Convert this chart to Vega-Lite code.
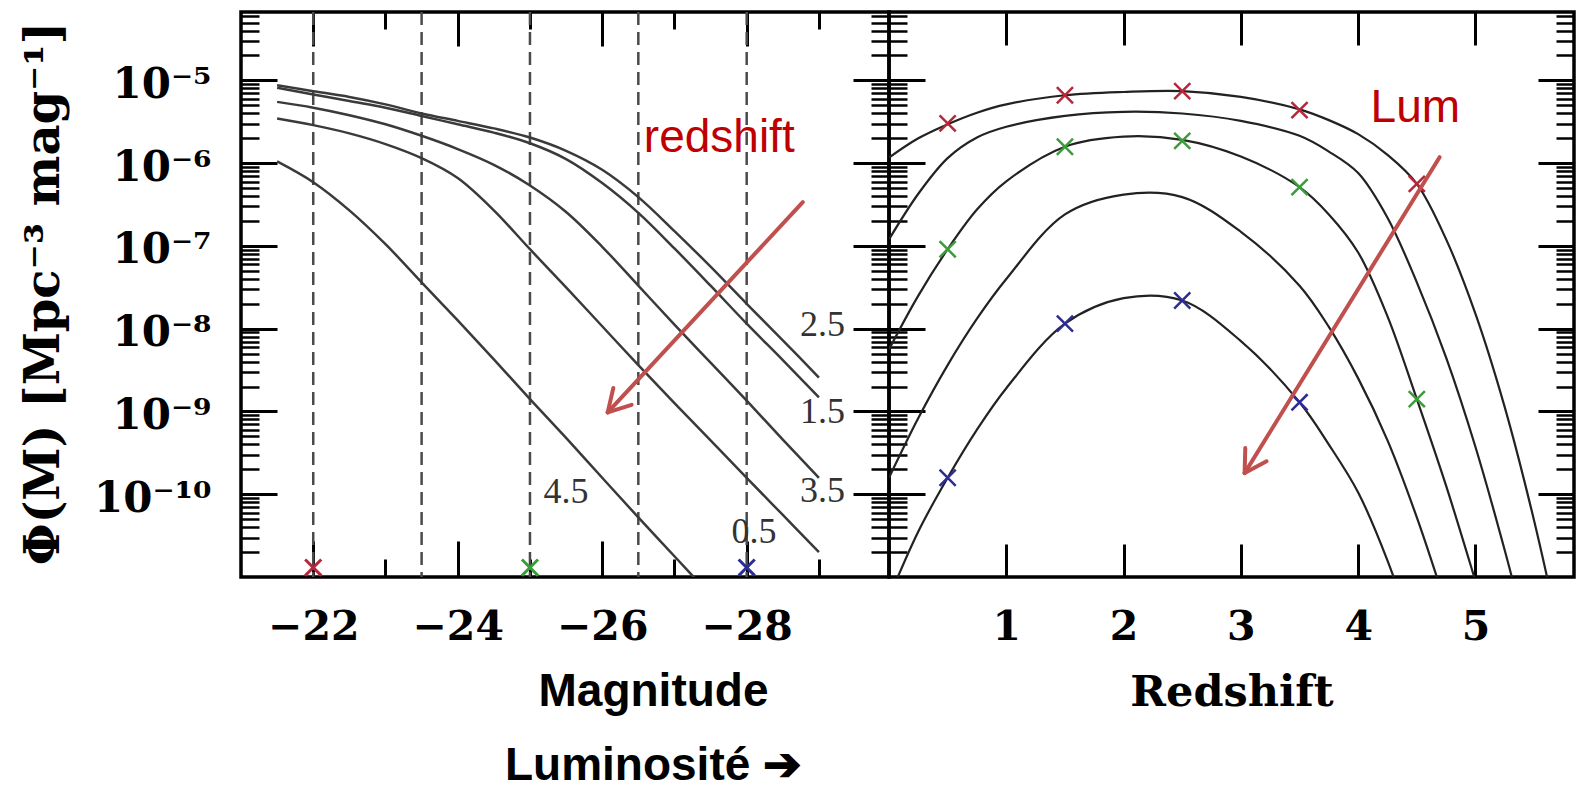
{
  "$schema": "https://vega.github.io/schema/vega-lite/v6.json",
  "background": "white",
  "padding": {"left": 18, "top": 8, "right": 0, "bottom": 0},
  "spacing": 0,
  "bounds": "flush",
  "config": {
    "view": {"stroke": "black", "strokeWidth": 3.5},
    "axis": {"grid": false, "domain": false, "tickColor": "black"}
  },
  "datasets": {
    "dash": [{"mag": -22}, {"mag": -23.5}, {"mag": -25}, {"mag": -26.5}, {"mag": -28}],
    "lf": [
      {"mag": -21.5, "phi": 8.71e-6, "zc": "2.5"}, {"mag": -22, "phi": 7.41e-6, "zc": "2.5"}, {"mag": -22.5, "phi": 6.31e-6, "zc": "2.5"}, {"mag": -23, "phi": 5.13e-6, "zc": "2.5"}, {"mag": -23.5, "phi": 3.98e-6, "zc": "2.5"}, {"mag": -24, "phi": 3.24e-6, "zc": "2.5"}, {"mag": -24.5, "phi": 2.63e-6, "zc": "2.5"}, {"mag": -25, "phi": 2.04e-6, "zc": "2.5"}, {"mag": -25.5, "phi": 1.41e-6, "zc": "2.5"}, {"mag": -26, "phi": 8.32e-7, "zc": "2.5"}, {"mag": -26.5, "phi": 3.89e-7, "zc": "2.5"}, {"mag": -27, "phi": 1.51e-7, "zc": "2.5"}, {"mag": -27.5, "phi": 5.62e-8, "zc": "2.5"}, {"mag": -28, "phi": 2.0e-8, "zc": "2.5"}, {"mag": -28.5, "phi": 7.24e-9, "zc": "2.5"}, {"mag": -29, "phi": 2.57e-9, "zc": "2.5"},
      {"mag": -21.5, "phi": 8.13e-6, "zc": "1.5"}, {"mag": -22, "phi": 6.76e-6, "zc": "1.5"}, {"mag": -22.5, "phi": 5.62e-6, "zc": "1.5"}, {"mag": -23, "phi": 4.68e-6, "zc": "1.5"}, {"mag": -23.5, "phi": 3.72e-6, "zc": "1.5"}, {"mag": -24, "phi": 2.95e-6, "zc": "1.5"}, {"mag": -24.5, "phi": 2.34e-6, "zc": "1.5"}, {"mag": -25, "phi": 1.74e-6, "zc": "1.5"}, {"mag": -25.5, "phi": 1.12e-6, "zc": "1.5"}, {"mag": -26, "phi": 5.75e-7, "zc": "1.5"}, {"mag": -26.5, "phi": 2.51e-7, "zc": "1.5"}, {"mag": -27, "phi": 9.33e-8, "zc": "1.5"}, {"mag": -27.5, "phi": 3.31e-8, "zc": "1.5"}, {"mag": -28, "phi": 1.15e-8, "zc": "1.5"}, {"mag": -28.5, "phi": 4.17e-9, "zc": "1.5"}, {"mag": -29, "phi": 1.48e-9, "zc": "1.5"},
      {"mag": -21.5, "phi": 5.50e-6, "zc": "3.5"}, {"mag": -22, "phi": 4.68e-6, "zc": "3.5"}, {"mag": -22.5, "phi": 3.80e-6, "zc": "3.5"}, {"mag": -23, "phi": 2.95e-6, "zc": "3.5"}, {"mag": -23.5, "phi": 2.14e-6, "zc": "3.5"}, {"mag": -24, "phi": 1.48e-6, "zc": "3.5"}, {"mag": -24.5, "phi": 9.55e-7, "zc": "3.5"}, {"mag": -25, "phi": 5.37e-7, "zc": "3.5"}, {"mag": -25.5, "phi": 2.57e-7, "zc": "3.5"}, {"mag": -26, "phi": 9.77e-8, "zc": "3.5"}, {"mag": -26.5, "phi": 3.31e-8, "zc": "3.5"}, {"mag": -27, "phi": 1.12e-8, "zc": "3.5"}, {"mag": -27.5, "phi": 3.89e-9, "zc": "3.5"}, {"mag": -28, "phi": 1.35e-9, "zc": "3.5"}, {"mag": -28.5, "phi": 4.57e-10, "zc": "3.5"}, {"mag": -29, "phi": 1.58e-10, "zc": "3.5"},
      {"mag": -21.5, "phi": 3.47e-6, "zc": "0.5"}, {"mag": -22, "phi": 2.88e-6, "zc": "0.5"}, {"mag": -22.5, "phi": 2.29e-6, "zc": "0.5"}, {"mag": -23, "phi": 1.70e-6, "zc": "0.5"}, {"mag": -23.5, "phi": 1.15e-6, "zc": "0.5"}, {"mag": -24, "phi": 6.61e-7, "zc": "0.5"}, {"mag": -24.5, "phi": 2.69e-7, "zc": "0.5"}, {"mag": -25, "phi": 9.12e-8, "zc": "0.5"}, {"mag": -25.5, "phi": 3.16e-8, "zc": "0.5"}, {"mag": -26, "phi": 1.07e-8, "zc": "0.5"}, {"mag": -26.5, "phi": 3.63e-9, "zc": "0.5"}, {"mag": -27, "phi": 1.26e-9, "zc": "0.5"}, {"mag": -27.5, "phi": 4.47e-10, "zc": "0.5"}, {"mag": -28, "phi": 1.58e-10, "zc": "0.5"}, {"mag": -28.5, "phi": 5.62e-11, "zc": "0.5"}, {"mag": -29, "phi": 2.0e-11, "zc": "0.5"},
      {"mag": -21.5, "phi": 1.05e-6, "zc": "4.5"}, {"mag": -22, "phi": 5.89e-7, "zc": "4.5"}, {"mag": -22.5, "phi": 2.69e-7, "zc": "4.5"}, {"mag": -23, "phi": 1.05e-7, "zc": "4.5"}, {"mag": -23.5, "phi": 3.63e-8, "zc": "4.5"}, {"mag": -24, "phi": 1.26e-8, "zc": "4.5"}, {"mag": -24.5, "phi": 4.27e-9, "zc": "4.5"}, {"mag": -25, "phi": 1.41e-9, "zc": "4.5"}, {"mag": -25.5, "phi": 4.79e-10, "zc": "4.5"}, {"mag": -26, "phi": 1.58e-10, "zc": "4.5"}, {"mag": -26.5, "phi": 5.25e-11, "zc": "4.5"}, {"mag": -27, "phi": 1.78e-11, "zc": "4.5"}, {"mag": -27.5, "phi": 6.03e-12, "zc": "4.5"}
    ],
    "zf": [
      {"z": 0, "phi": 1.17e-6, "m": "-22"}, {"z": 0.25, "phi": 2.0e-6, "m": "-22"}, {"z": 0.5, "phi": 2.95e-6, "m": "-22"}, {"z": 0.75, "phi": 4.07e-6, "m": "-22"}, {"z": 1, "phi": 5.13e-6, "m": "-22"}, {"z": 1.5, "phi": 6.61e-6, "m": "-22"}, {"z": 2, "phi": 7.24e-6, "m": "-22"}, {"z": 2.5, "phi": 7.41e-6, "m": "-22"}, {"z": 3, "phi": 6.31e-6, "m": "-22"}, {"z": 3.5, "phi": 4.47e-6, "m": "-22"}, {"z": 3.75, "phi": 3.31e-6, "m": "-22"}, {"z": 4, "phi": 2.24e-6, "m": "-22"}, {"z": 4.25, "phi": 1.26e-6, "m": "-22"}, {"z": 4.5, "phi": 5.62e-7, "m": "-22"}, {"z": 4.75, "phi": 1.20e-7, "m": "-22"}, {"z": 5, "phi": 1.51e-8, "m": "-22"}, {"z": 5.25, "phi": 1.12e-9, "m": "-22"}, {"z": 5.5, "phi": 4.79e-11, "m": "-22"}, {"z": 5.7, "phi": 2.63e-12, "m": "-22"},
      {"z": 0, "phi": 1.20e-7, "m": "-23.5"}, {"z": 0.25, "phi": 4.27e-7, "m": "-23.5"}, {"z": 0.5, "phi": 1.15e-6, "m": "-23.5"}, {"z": 0.75, "phi": 2.04e-6, "m": "-23.5"}, {"z": 1, "phi": 2.75e-6, "m": "-23.5"}, {"z": 1.5, "phi": 3.72e-6, "m": "-23.5"}, {"z": 2, "phi": 4.17e-6, "m": "-23.5"}, {"z": 2.5, "phi": 3.98e-6, "m": "-23.5"}, {"z": 3, "phi": 3.24e-6, "m": "-23.5"}, {"z": 3.5, "phi": 2.14e-6, "m": "-23.5"}, {"z": 3.75, "phi": 1.38e-6, "m": "-23.5"}, {"z": 4, "phi": 7.59e-7, "m": "-23.5"}, {"z": 4.25, "phi": 2.19e-7, "m": "-23.5"}, {"z": 4.5, "phi": 3.63e-8, "m": "-23.5"}, {"z": 4.75, "phi": 4.47e-9, "m": "-23.5"}, {"z": 5, "phi": 3.72e-10, "m": "-23.5"}, {"z": 5.25, "phi": 2.09e-11, "m": "-23.5"}, {"z": 5.4, "phi": 3.16e-12, "m": "-23.5"},
      {"z": 0, "phi": 5.62e-9, "m": "-25"}, {"z": 0.25, "phi": 2.51e-8, "m": "-25"}, {"z": 0.5, "phi": 9.12e-8, "m": "-25"}, {"z": 0.75, "phi": 2.75e-7, "m": "-25"}, {"z": 1, "phi": 6.03e-7, "m": "-25"}, {"z": 1.5, "phi": 1.58e-6, "m": "-25"}, {"z": 2, "phi": 2.09e-6, "m": "-25"}, {"z": 2.5, "phi": 1.91e-6, "m": "-25"}, {"z": 3, "phi": 1.20e-6, "m": "-25"}, {"z": 3.5, "phi": 5.13e-7, "m": "-25"}, {"z": 3.75, "phi": 2.40e-7, "m": "-25"}, {"z": 4, "phi": 8.32e-8, "m": "-25"}, {"z": 4.25, "phi": 1.41e-8, "m": "-25"}, {"z": 4.5, "phi": 1.41e-9, "m": "-25"}, {"z": 4.75, "phi": 1.26e-10, "m": "-25"}, {"z": 5, "phi": 8.91e-12, "m": "-25"}, {"z": 5.1, "phi": 3.0e-12, "m": "-25"},
      {"z": 0, "phi": 1.58e-10, "m": "-26.5"}, {"z": 0.25, "phi": 8.32e-10, "m": "-26.5"}, {"z": 0.5, "phi": 3.63e-9, "m": "-26.5"}, {"z": 0.75, "phi": 1.32e-8, "m": "-26.5"}, {"z": 1, "phi": 3.98e-8, "m": "-26.5"}, {"z": 1.5, "phi": 2.40e-7, "m": "-26.5"}, {"z": 2, "phi": 4.17e-7, "m": "-26.5"}, {"z": 2.5, "phi": 3.89e-7, "m": "-26.5"}, {"z": 3, "phi": 1.48e-7, "m": "-26.5"}, {"z": 3.5, "phi": 3.31e-8, "m": "-26.5"}, {"z": 3.75, "phi": 1.05e-8, "m": "-26.5"}, {"z": 4, "phi": 2.51e-9, "m": "-26.5"}, {"z": 4.25, "phi": 4.47e-10, "m": "-26.5"}, {"z": 4.5, "phi": 5.25e-11, "m": "-26.5"}, {"z": 4.75, "phi": 4.47e-12, "m": "-26.5"},
      {"z": 0, "phi": 5.62e-12, "m": "-28"}, {"z": 0.25, "phi": 3.55e-11, "m": "-28"}, {"z": 0.5, "phi": 1.58e-10, "m": "-28"}, {"z": 0.75, "phi": 6.03e-10, "m": "-28"}, {"z": 1, "phi": 1.91e-9, "m": "-28"}, {"z": 1.5, "phi": 1.15e-8, "m": "-28"}, {"z": 2, "phi": 2.34e-8, "m": "-28"}, {"z": 2.5, "phi": 2.19e-8, "m": "-28"}, {"z": 3, "phi": 7.08e-9, "m": "-28"}, {"z": 3.5, "phi": 1.29e-9, "m": "-28"}, {"z": 3.75, "phi": 3.98e-10, "m": "-28"}, {"z": 4, "phi": 1.05e-10, "m": "-28"}, {"z": 4.25, "phi": 1.58e-11, "m": "-28"}, {"z": 4.5, "phi": 1.5e-12, "m": "-28"}
    ],
    "lflabels": [
      {"mag": -29.05, "phi": 1.10e-8, "t": "2.5"},
      {"mag": -29.05, "phi": 9.77e-10, "t": "1.5"},
      {"mag": -29.05, "phi": 1.10e-10, "t": "3.5"},
      {"mag": -28.1, "phi": 3.47e-11, "t": "0.5"},
      {"mag": -25.5, "phi": 1.05e-10, "t": "4.5"}
    ],
    "bmarks": [
      {"mag": -22, "phi": 1.3e-11, "c": "r"},
      {"mag": -25, "phi": 1.3e-11, "c": "g"},
      {"mag": -28, "phi": 1.3e-11, "c": "b"}
    ],
    "rmarks": [
      {"z": 0.5, "phi": 3.02e-6, "c": "r"}, {"z": 1.5, "phi": 6.61e-6, "c": "r"}, {"z": 2.5, "phi": 7.41e-6, "c": "r"}, {"z": 3.5, "phi": 4.37e-6, "c": "r"}, {"z": 4.5, "phi": 5.62e-7, "c": "r"},
      {"z": 0.5, "phi": 9.12e-8, "c": "g"}, {"z": 1.5, "phi": 1.58e-6, "c": "g"}, {"z": 2.5, "phi": 1.86e-6, "c": "g"}, {"z": 3.5, "phi": 5.13e-7, "c": "g"}, {"z": 4.5, "phi": 1.41e-9, "c": "g"},
      {"z": 0.5, "phi": 1.58e-10, "c": "b"}, {"z": 1.5, "phi": 1.15e-8, "c": "b"}, {"z": 2.5, "phi": 2.19e-8, "c": "b"}, {"z": 3.5, "phi": 1.29e-9, "c": "b"}
    ],
    "larrow": [
      {"mag": -28.777, "phi": 3.38e-7, "mag2": -26.076, "phi2": 9.75e-10},
      {"mag": -26.407, "phi": 1.20e-9, "mag2": -26.076, "phi2": 9.75e-10},
      {"mag": -26.154, "phi": 1.92e-9, "mag2": -26.076, "phi2": 9.75e-10}
    ],
    "rarrow": [
      {"z": 4.694, "phi": 1.18e-6, "z2": 3.032, "phi2": 1.80e-10},
      {"z": 3.219, "phi": 2.50e-10, "z2": 3.032, "phi2": 1.80e-10},
      {"z": 3.0375, "phi": 3.61e-10, "z2": 3.032, "phi2": 1.80e-10}
    ],
    "lnote": [{"mag": -27.62, "phi": 1.36e-6, "t": "redshift"}],
    "rnote": [{"z": 4.487, "phi": 3.13e-6, "t": "Lum"}]
  },
  "hconcat": [
    {
      "width": 648,
      "height": 565,
      "layer": [
        {
          "data": {"name": "dash"},
          "mark": {"type": "rule", "strokeDash": [13, 7], "color": "#4a4a4a", "strokeWidth": 2.5},
          "encoding": {
            "x": {"field": "mag", "type": "quantitative", "scale": {"domain": [-21, -29.97], "nice": false, "zero": false}, "axis": null}
          }
        },
        {
          "data": {"name": "lf"},
          "mark": {"type": "line", "color": "#3a3a3a", "strokeWidth": 2.5, "interpolate": "catmull-rom", "clip": true},
          "encoding": {
            "x": {"field": "mag", "type": "quantitative", "scale": {"domain": [-21, -29.97], "nice": false, "zero": false},
              "axis": {"orient": "bottom", "values": [-22, -24, -26, -28], "ticks": false, "labelFont": "DejaVu Serif", "labelFontSize": 41, "labelFontWeight": "bold", "labelColor": "black", "labelPadding": 30, "labelFlush": false, "labelOverlap": false,
                "title": ["Magnitude", "Luminosité ➔"], "titleFont": "Liberation Sans", "titleFontSize": 46, "titleFontWeight": "bold", "titleColor": "black", "titleX": 412, "titleY": 128, "titleBaseline": "alphabetic", "titleAlign": "center", "titleLineHeight": 74}},
            "y": {"field": "phi", "type": "quantitative", "scale": {"type": "log", "domain": [1e-11, 6.7e-5], "nice": false},
              "axis": {"orient": "left", "values": [1e-5, 1e-6, 1e-7, 1e-8, 1e-9, 1e-10], "ticks": false,
                "labelExpr": "['10⁻⁵','10⁻⁶','10⁻⁷','10⁻⁸','10⁻⁹','10⁻¹⁰'][round(-log(datum.value)/LN10) - 5]",
                "labelFont": "DejaVu Serif", "labelFontSize": 42, "labelFontWeight": "bold", "labelColor": "black", "labelPadding": 30, "labelBaseline": "middle", "labelOffset": 4, "labelOverlap": false, "labelFlush": false,
                "title": "Φ(M) [Mpc⁻³ mag⁻¹]", "titleFont": "DejaVu Serif", "titleFontSize": 48, "titleFontWeight": "bold", "titleColor": "black", "titleAngle": -90, "titleBaseline": "middle", "titleAlign": "center", "titleX": -197, "titleY": 281}},
            "detail": {"field": "zc", "type": "nominal"}
          }
        },
        {
          "data": {"name": "lflabels"},
          "mark": {"type": "text", "font": "Liberation Serif", "fontSize": 36, "color": "#333333", "align": "center", "baseline": "middle"},
          "encoding": {
            "x": {"field": "mag", "type": "quantitative", "axis": {"orient": "bottom", "values": [-22, -24, -26, -28], "labels": false, "tickSize": 36, "offset": -36, "tickWidth": 3, "title": null}},
            "y": {"field": "phi", "type": "quantitative", "axis": {"orient": "left", "values": [1e-5, 1e-6, 1e-7, 1e-8, 1e-9, 1e-10], "labels": false, "tickSize": 36, "offset": -36, "tickWidth": 3, "title": null}},
            "text": {"field": "t"}
          }
        },
        {
          "data": {"name": "bmarks"},
          "mark": {"type": "point", "shape": "M-1,-1L1,1M-1,1L1,-1", "size": 260, "filled": false, "strokeWidth": 3, "opacity": 1},
          "encoding": {
            "x": {"field": "mag", "type": "quantitative", "axis": {"orient": "bottom", "values": [-23, -25, -27, -29], "labels": false, "tickSize": 18, "offset": -18, "tickWidth": 3, "title": null}},
            "y": {"field": "phi", "type": "quantitative", "axis": {"orient": "left", "values": [2e-11, 3e-11, 4e-11, 5e-11, 6e-11, 7e-11, 8e-11, 9e-11, 2e-10, 3e-10, 4e-10, 5e-10, 6e-10, 7e-10, 8e-10, 9e-10, 2e-9, 3e-9, 4e-9, 5e-9, 6e-9, 7e-9, 8e-9, 9e-9, 2e-8, 3e-8, 4e-8, 5e-8, 6e-8, 7e-8, 8e-8, 9e-8, 2e-7, 3e-7, 4e-7, 5e-7, 6e-7, 7e-7, 8e-7, 9e-7, 2e-6, 3e-6, 4e-6, 5e-6, 6e-6, 7e-6, 8e-6, 9e-6, 2e-5, 3e-5, 4e-5, 5e-5, 6e-5], "labels": false, "tickSize": 18, "offset": -18, "tickWidth": 2.5, "title": null}},
            "color": {"field": "c", "type": "nominal", "scale": {"domain": ["r", "g", "b"], "range": ["#b4283c", "#3c9c3c", "#2c2c96"]}, "legend": null}
          }
        },
        {
          "data": {"name": "larrow"},
          "mark": {"type": "rule", "color": "#c0504d", "strokeWidth": 4, "strokeCap": "round"},
          "encoding": {
            "x": {"field": "mag", "type": "quantitative", "axis": {"orient": "top", "values": [-22, -24, -26, -28], "labels": false, "tickSize": 34, "offset": -34, "tickWidth": 3, "title": null}},
            "y": {"field": "phi", "type": "quantitative", "axis": {"orient": "right", "values": [1e-5, 1e-6, 1e-7, 1e-8, 1e-9, 1e-10], "labels": false, "tickSize": 36, "offset": -36, "tickWidth": 3, "title": null}},
            "x2": {"field": "mag2"},
            "y2": {"field": "phi2"}
          }
        },
        {
          "data": {"name": "lnote"},
          "mark": {"type": "text", "font": "Liberation Sans", "fontSize": 46, "color": "#c00000", "align": "center", "baseline": "alphabetic"},
          "encoding": {
            "x": {"field": "mag", "type": "quantitative", "axis": {"orient": "top", "values": [-23, -25, -27, -29], "labels": false, "tickSize": 17, "offset": -17, "tickWidth": 3, "title": null}},
            "y": {"field": "phi", "type": "quantitative", "axis": {"orient": "right", "values": [2e-11, 3e-11, 4e-11, 5e-11, 6e-11, 7e-11, 8e-11, 9e-11, 2e-10, 3e-10, 4e-10, 5e-10, 6e-10, 7e-10, 8e-10, 9e-10, 2e-9, 3e-9, 4e-9, 5e-9, 6e-9, 7e-9, 8e-9, 9e-9, 2e-8, 3e-8, 4e-8, 5e-8, 6e-8, 7e-8, 8e-8, 9e-8, 2e-7, 3e-7, 4e-7, 5e-7, 6e-7, 7e-7, 8e-7, 9e-7, 2e-6, 3e-6, 4e-6, 5e-6, 6e-6, 7e-6, 8e-6, 9e-6, 2e-5, 3e-5, 4e-5, 5e-5, 6e-5], "labels": false, "tickSize": 18, "offset": -18, "tickWidth": 2.5, "title": null}},
            "text": {"field": "t"}
          }
        }
      ],
      "resolve": {"axis": {"x": "independent", "y": "independent"}}
    },
    {
      "width": 685,
      "height": 565,
      "layer": [
        {
          "data": {"name": "zf"},
          "mark": {"type": "line", "color": "#222222", "strokeWidth": 2.2, "interpolate": "catmull-rom", "clip": true},
          "encoding": {
            "x": {"field": "z", "type": "quantitative", "scale": {"domain": [0, 5.84], "nice": false, "zero": false},
              "axis": {"orient": "bottom", "values": [1, 2, 3, 4, 5], "ticks": false, "labelFont": "DejaVu Serif", "labelFontSize": 41, "labelFontWeight": "bold", "labelColor": "black", "labelPadding": 30, "labelFlush": false, "labelOverlap": false,
                "title": "Redshift", "titleFont": "DejaVu Serif", "titleFontSize": 43, "titleFontWeight": "bold", "titleColor": "black", "titleY": 128, "titleBaseline": "alphabetic"}},
            "y": {"field": "phi", "type": "quantitative", "scale": {"type": "log", "domain": [1e-11, 6.7e-5], "nice": false},
              "axis": {"orient": "left", "values": [1e-5, 1e-6, 1e-7, 1e-8, 1e-9, 1e-10], "labels": false, "tickSize": 36, "offset": -36, "tickWidth": 3, "title": null}},
            "detail": {"field": "m", "type": "nominal"}
          }
        },
        {
          "data": {"name": "rmarks"},
          "mark": {"type": "point", "shape": "M-1,-1L1,1M-1,1L1,-1", "size": 260, "filled": false, "strokeWidth": 2.5, "opacity": 1},
          "encoding": {
            "x": {"field": "z", "type": "quantitative", "axis": {"orient": "bottom", "values": [1, 2, 3, 4, 5], "labels": false, "tickSize": 33, "offset": -33, "tickWidth": 3, "title": null}},
            "y": {"field": "phi", "type": "quantitative", "axis": {"orient": "left", "values": [2e-11, 3e-11, 4e-11, 5e-11, 6e-11, 7e-11, 8e-11, 9e-11, 2e-10, 3e-10, 4e-10, 5e-10, 6e-10, 7e-10, 8e-10, 9e-10, 2e-9, 3e-9, 4e-9, 5e-9, 6e-9, 7e-9, 8e-9, 9e-9, 2e-8, 3e-8, 4e-8, 5e-8, 6e-8, 7e-8, 8e-8, 9e-8, 2e-7, 3e-7, 4e-7, 5e-7, 6e-7, 7e-7, 8e-7, 9e-7, 2e-6, 3e-6, 4e-6, 5e-6, 6e-6, 7e-6, 8e-6, 9e-6, 2e-5, 3e-5, 4e-5, 5e-5, 6e-5], "labels": false, "tickSize": 18, "offset": -18, "tickWidth": 2.5, "title": null}},
            "color": {"field": "c", "type": "nominal", "scale": {"domain": ["r", "g", "b"], "range": ["#b4283c", "#3c9c3c", "#2c2c96"]}, "legend": null}
          }
        },
        {
          "data": {"name": "rarrow"},
          "mark": {"type": "rule", "color": "#c0504d", "strokeWidth": 4, "strokeCap": "round"},
          "encoding": {
            "x": {"field": "z", "type": "quantitative", "axis": {"orient": "top", "values": [1, 2, 3, 4, 5], "labels": false, "tickSize": 33, "offset": -33, "tickWidth": 3, "title": null}},
            "y": {"field": "phi", "type": "quantitative", "axis": {"orient": "right", "values": [1e-5, 1e-6, 1e-7, 1e-8, 1e-9, 1e-10], "labels": false, "tickSize": 36, "offset": -36, "tickWidth": 3, "title": null}},
            "x2": {"field": "z2"},
            "y2": {"field": "phi2"}
          }
        },
        {
          "data": {"name": "rnote"},
          "mark": {"type": "text", "font": "Liberation Sans", "fontSize": 46, "color": "#c00000", "align": "center", "baseline": "alphabetic"},
          "encoding": {
            "x": {"field": "z", "type": "quantitative", "axis": null},
            "y": {"field": "phi", "type": "quantitative", "axis": {"orient": "right", "values": [2e-11, 3e-11, 4e-11, 5e-11, 6e-11, 7e-11, 8e-11, 9e-11, 2e-10, 3e-10, 4e-10, 5e-10, 6e-10, 7e-10, 8e-10, 9e-10, 2e-9, 3e-9, 4e-9, 5e-9, 6e-9, 7e-9, 8e-9, 9e-9, 2e-8, 3e-8, 4e-8, 5e-8, 6e-8, 7e-8, 8e-8, 9e-8, 2e-7, 3e-7, 4e-7, 5e-7, 6e-7, 7e-7, 8e-7, 9e-7, 2e-6, 3e-6, 4e-6, 5e-6, 6e-6, 7e-6, 8e-6, 9e-6, 2e-5, 3e-5, 4e-5, 5e-5, 6e-5], "labels": false, "tickSize": 18, "offset": -18, "tickWidth": 2.5, "title": null}},
            "text": {"field": "t"}
          }
        }
      ],
      "resolve": {"axis": {"x": "independent", "y": "independent"}}
    }
  ]
}
